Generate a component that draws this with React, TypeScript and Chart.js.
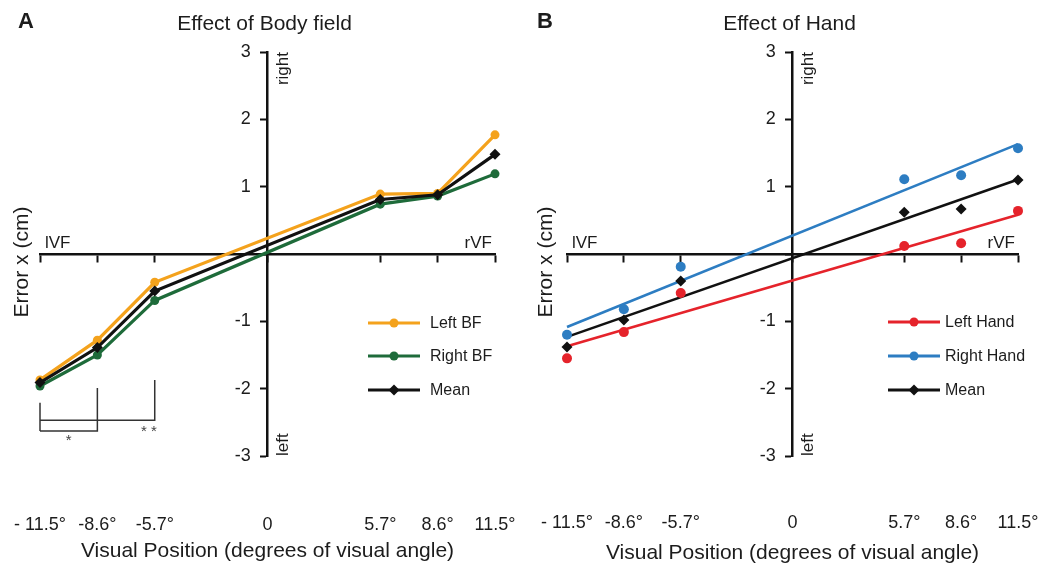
import React, { useEffect, useRef } from "react";
import { Chart, registerables } from "chart.js";

Chart.register(...registerables);

// ---------- shared axis data ----------
const positions = [-11.5, -8.6, -5.7, 5.7, 8.6, 11.5];
const xTickValues = [-11.5, -8.6, -5.7, 0, 5.7, 8.6, 11.5];
const xTickLabels = ["- 11.5°", "-8.6°", "-5.7°", "0", "5.7°", "8.6°", "11.5°"];
const yTickValues = [-3, -2, -1, 0, 1, 2, 3];
const yTickLabels = ["-3", "-2", "-1", "", "1", "2", "3"];

// ---------- panel A: effect of body field ----------
const bodyLabels = ["Left BF", "Right BF", "Mean"];
const leftBF = [-1.87, -1.28, -0.42, 0.89, 0.9, 1.77];
const rightBF = [-1.96, -1.5, -0.69, 0.74, 0.86, 1.19];
const meanBF = [-1.91, -1.39, -0.55, 0.81, 0.88, 1.48];

// ---------- panel B: effect of hand ----------
const handLabels = ["Left Hand", "Right Hand", "Mean"];
const leftHand = [-1.55, -1.16, -0.58, 0.12, 0.16, 0.64];
const rightHand = [-1.2, -0.82, -0.19, 1.11, 1.17, 1.57];
const meanHand = [-1.38, -0.98, -0.4, 0.62, 0.67, 1.1];

// ---------- significance brackets (panel A) ----------
const bracketFrom = [-11.5, -11.5];
const bracketTo = [-8.6, -5.7];
const bracketMarks = ["*", "* *"];

const FONT = '"Liberation Sans", Arial, Helvetica, sans-serif';
const INK = "#1c1c1c";
const AXIS = "#111111";
const LABEL_BAND = 80;

type Spec = {
  letter: string;
  title: string;
  labels: string[];
  colors: string[];
  styles: string[];
  series: number[][];
  mode: "lines" | "fit";
  padding: { left: number; right: number; top: number; bottom: number };
  yTitleX: number;
  xTitleY: number;
  tickPad: number;
  legendX: number;
  legendTextX: number;
  legendRows: number[];
  brackets: boolean;
};

function linearFit(xs: number[], ys: number[]) {
  const n = xs.length;
  const mx = xs.reduce((s, v) => s + v, 0) / n;
  const my = ys.reduce((s, v) => s + v, 0) / n;
  let sxy = 0;
  let sxx = 0;
  for (let i = 0; i < n; i++) {
    sxy += (xs[i] - mx) * (ys[i] - my);
    sxx += (xs[i] - mx) * (xs[i] - mx);
  }
  const slope = sxy / sxx;
  return { slope, intercept: my - slope * mx };
}

const specA: Spec = {
  letter: "A",
  title: "Effect of Body field",
  labels: bodyLabels,
  colors: ["#F4A21C", "#1E6B3A", "#111111"],
  styles: ["circle", "circle", "rectRot"],
  series: [leftBF, rightBF, meanBF],
  mode: "lines",
  padding: { left: 40, right: 27, top: 52, bottom: 110 - LABEL_BAND },
  yTitleX: 22,
  xTitleY: 557,
  tickPad: 58,
  legendX: 368,
  legendTextX: 430,
  legendRows: [323, 356, 390],
  brackets: true,
};

const specB: Spec = {
  letter: "B",
  title: "Effect of Hand",
  labels: handLabels,
  colors: ["#E5232B", "#2D7DC2", "#111111"],
  styles: ["circle", "circle", "rectRot"],
  series: [leftHand, rightHand, meanHand],
  mode: "fit",
  padding: { left: 45, right: 26, top: 52, bottom: 110 - LABEL_BAND },
  yTitleX: 24,
  xTitleY: 559,
  tickPad: 56,
  legendX: 366,
  legendTextX: 423,
  legendRows: [322, 356, 390],
  brackets: false,
};

function drawMarker(ctx: CanvasRenderingContext2D, style: string, x: number, y: number, r: number, color: string) {
  ctx.fillStyle = color;
  ctx.beginPath();
  if (style === "rectRot") {
    ctx.moveTo(x, y - r);
    ctx.lineTo(x + r, y);
    ctx.lineTo(x, y + r);
    ctx.lineTo(x - r, y);
    ctx.closePath();
  } else {
    ctx.arc(x, y, r, 0, Math.PI * 2);
  }
  ctx.fill();
}

function makeDecorations(spec: Spec) {
  return {
    id: "decorations" + spec.letter,
    afterDraw(chart: any) {
      const ctx: CanvasRenderingContext2D = chart.ctx;
      const xs = chart.scales.x;
      const ys = chart.scales.y;
      const x0 = xs.getPixelForValue(0);
      const y0 = ys.getPixelForValue(0);
      const yTop = ys.getPixelForValue(3);
      const yBottom = ys.getPixelForValue(-3);
      ctx.save();
      ctx.fillStyle = INK;

      // panel letter
      ctx.font = `bold 22px ${FONT}`;
      ctx.textAlign = "left";
      ctx.textBaseline = "alphabetic";
      ctx.fillText(spec.letter, spec.letter === "A" ? 18 : 15, 28);

      // title
      ctx.font = `21px ${FONT}`;
      ctx.textAlign = "center";
      ctx.fillText(spec.title, x0 - 3, 30);

      // x-axis title
      ctx.fillText("Visual Position (degrees of visual angle)", x0, spec.xTitleY);

      // y-axis title
      ctx.save();
      ctx.translate(spec.yTitleX, 262);
      ctx.rotate(-Math.PI / 2);
      ctx.textBaseline = "middle";
      ctx.fillText("Error x (cm)", 0, 0);
      ctx.restore();

      // right / left
      ctx.font = `17px ${FONT}`;
      ctx.save();
      ctx.translate(x0 + 16, yTop);
      ctx.rotate(-Math.PI / 2);
      ctx.textAlign = "right";
      ctx.textBaseline = "middle";
      ctx.fillText("right", 0, 0);
      ctx.restore();
      ctx.save();
      ctx.translate(x0 + 16, yBottom);
      ctx.rotate(-Math.PI / 2);
      ctx.textAlign = "left";
      ctx.textBaseline = "middle";
      ctx.fillText("left", 0, 0);
      ctx.restore();

      // visual fields
      ctx.textBaseline = "alphabetic";
      ctx.textAlign = "left";
      ctx.fillText("lVF", xs.left + 5, y0 - 6);
      ctx.textAlign = "right";
      ctx.fillText("rVF", xs.right - 3, y0 - 6);

      // legend
      ctx.font = `16px ${FONT}`;
      ctx.textAlign = "left";
      ctx.textBaseline = "middle";
      spec.labels.forEach((label, i) => {
        const y = spec.legendRows[i];
        const c = spec.colors[i];
        ctx.strokeStyle = c;
        ctx.lineWidth = 3;
        ctx.beginPath();
        ctx.moveTo(spec.legendX, y);
        ctx.lineTo(spec.legendX + 52, y);
        ctx.stroke();
        drawMarker(ctx, spec.styles[i], spec.legendX + 26, y, spec.styles[i] === "rectRot" ? 5.5 : 4.5, c);
        ctx.fillStyle = INK;
        ctx.fillText(label, spec.legendTextX, y + 1);
      });

      // significance brackets
      if (spec.brackets) {
        const px = (v: number) => xs.getPixelForValue(v);
        const py = (v: number) => ys.getPixelForValue(v);
        ctx.strokeStyle = "#333333";
        ctx.lineWidth = 1.5;
        const baseY = [-2.63, -2.47];
        const leftTop = [-2.21, -2.21];
        const rightTop = [-1.99, -1.87];
        const markY = [-2.73, -2.6];
        ctx.beginPath();
        ctx.moveTo(px(bracketFrom[0]), py(leftTop[0]));
        ctx.lineTo(px(bracketFrom[0]), py(baseY[0]));
        ctx.stroke();
        bracketFrom.forEach((from, i) => {
          ctx.beginPath();
          ctx.moveTo(px(from), py(baseY[i]));
          ctx.lineTo(px(bracketTo[i]), py(baseY[i]));
          ctx.lineTo(px(bracketTo[i]), py(rightTop[i]));
          ctx.stroke();
        });
        ctx.fillStyle = "#444444";
        ctx.font = `15px ${FONT}`;
        ctx.textAlign = "center";
        ctx.textBaseline = "alphabetic";
        bracketMarks.forEach((m, i) => {
          const mx = (bracketFrom[i] + bracketTo[i]) / 2 + (i === 1 ? 2.6 : 0);
          ctx.fillText(m, px(mx), py(markY[i]) + 7);
        });
      }
      ctx.restore();
    },
  };
}

function buildChart(canvas: HTMLCanvasElement, spec: Spec) {
  const datasets: any[] = [];
  const order = [2, 0, 1];
  if (spec.mode === "lines") {
    order.forEach((i) => {
      datasets.push({
        label: spec.labels[i],
        data: positions.map((x, k) => ({ x, y: spec.series[i][k] })),
        showLine: true,
        borderColor: spec.colors[i],
        backgroundColor: spec.colors[i],
        borderWidth: 3.2,
        pointStyle: spec.styles[i],
        pointRadius: spec.styles[i] === "rectRot" ? 5.5 : 4.5,
        pointBorderWidth: 0,
        clip: false,
      });
    });
  } else {
    order.forEach((i) => {
      datasets.push({
        label: spec.labels[i],
        data: positions.map((x, k) => ({ x, y: spec.series[i][k] })),
        showLine: false,
        borderColor: spec.colors[i],
        backgroundColor: spec.colors[i],
        pointStyle: spec.styles[i],
        pointRadius: spec.styles[i] === "rectRot" ? 5.5 : 5,
        pointBorderWidth: 0,
        clip: false,
      });
    });
    order.forEach((i) => {
      const fit = linearFit(positions, spec.series[i]);
      const x1 = positions[0];
      const x2 = positions[positions.length - 1];
      datasets.push({
        label: spec.labels[i] + " fit",
        data: [
          { x: x1, y: fit.intercept + fit.slope * x1 },
          { x: x2, y: fit.intercept + fit.slope * x2 },
        ],
        showLine: true,
        borderColor: spec.colors[i],
        borderWidth: 2.6,
        pointRadius: 0,
        clip: false,
      });
    });
  }

  const tickFont = { family: FONT, size: 18 };
  const setXTicks = (s: any) => {
    s.ticks = xTickValues.map((v) => ({ value: v }));
  };
  const setYTicks = (s: any) => {
    s.ticks = yTickValues.map((v) => ({ value: v }));
  };
  const noPad = (s: any) => {
    s.paddingLeft = 0;
    s.paddingRight = 0;
    s.paddingTop = 0;
    s.paddingBottom = 0;
  };

  return new Chart(canvas, {
    type: "scatter",
    data: { datasets },
    plugins: [makeDecorations(spec)],
    options: {
      responsive: false,
      animation: false,
      events: [],
      layout: { padding: spec.padding },
      plugins: { legend: { display: false }, tooltip: { enabled: false }, title: { display: false } },
      scales: {
        x: {
          type: "linear",
          min: -11.5,
          max: 11.5,
          position: { y: 0 },
          afterFit: (s: any) => {
            s.height = 0;
            noPad(s);
          },
          afterBuildTicks: setXTicks,
          grid: { display: true, drawOnChartArea: false, drawTicks: true, tickLength: 7, tickWidth: 2, tickColor: AXIS, color: AXIS },
          border: { display: true, color: AXIS, width: 2.5 },
          ticks: { display: false },
        },
        xLabels: {
          type: "linear",
          axis: "x",
          position: "bottom",
          min: -11.5,
          max: 11.5,
          afterFit: (s: any) => {
            s.height = LABEL_BAND;
            noPad(s);
          },
          afterBuildTicks: setXTicks,
          grid: { display: false, drawTicks: false },
          border: { display: false },
          ticks: {
            autoSkip: false,
            maxRotation: 0,
            minRotation: 0,
            padding: spec.tickPad,
            font: tickFont,
            color: INK,
            callback: (v: any) => xTickLabels[xTickValues.indexOf(v)],
          },
        },
        y: {
          type: "linear",
          min: -3,
          max: 3,
          position: { x: 0 },
          afterFit: (s: any) => {
            s.width = 0;
            noPad(s);
          },
          afterBuildTicks: setYTicks,
          grid: { display: true, drawOnChartArea: false, drawTicks: true, tickLength: 6, tickWidth: 2, tickColor: AXIS, color: AXIS },
          border: { display: true, color: AXIS, width: 2.5 },
          ticks: { display: false },
        },
        yLabels: {
          type: "linear",
          axis: "y",
          min: -3,
          max: 3,
          position: { x: -0.85 },
          afterFit: (s: any) => {
            s.width = 0;
            noPad(s);
          },
          afterBuildTicks: setYTicks,
          grid: { display: false, drawTicks: false },
          border: { display: false },
          ticks: {
            autoSkip: false,
            font: tickFont,
            color: INK,
            callback: (v: any) => yTickLabels[yTickValues.indexOf(v)],
          },
        },
      } as any,
    },
  } as any);
}

export default function App() {
  const refA = useRef<HTMLCanvasElement>(null);
  const refB = useRef<HTMLCanvasElement>(null);
  useEffect(() => {
    const a = buildChart(refA.current as HTMLCanvasElement, specA);
    const b = buildChart(refB.current as HTMLCanvasElement, specB);
    return () => {
      a.destroy();
      b.destroy();
    };
  }, []);
  return (
    <div style={{ position: "absolute", left: 0, top: 0, width: 1044, height: 566, background: "#ffffff", display: "flex" }}>
      <canvas ref={refA} width={522} height={566} style={{ display: "block", width: 522, height: 566 }} />
      <canvas ref={refB} width={522} height={566} style={{ display: "block", width: 522, height: 566 }} />
    </div>
  );
}
